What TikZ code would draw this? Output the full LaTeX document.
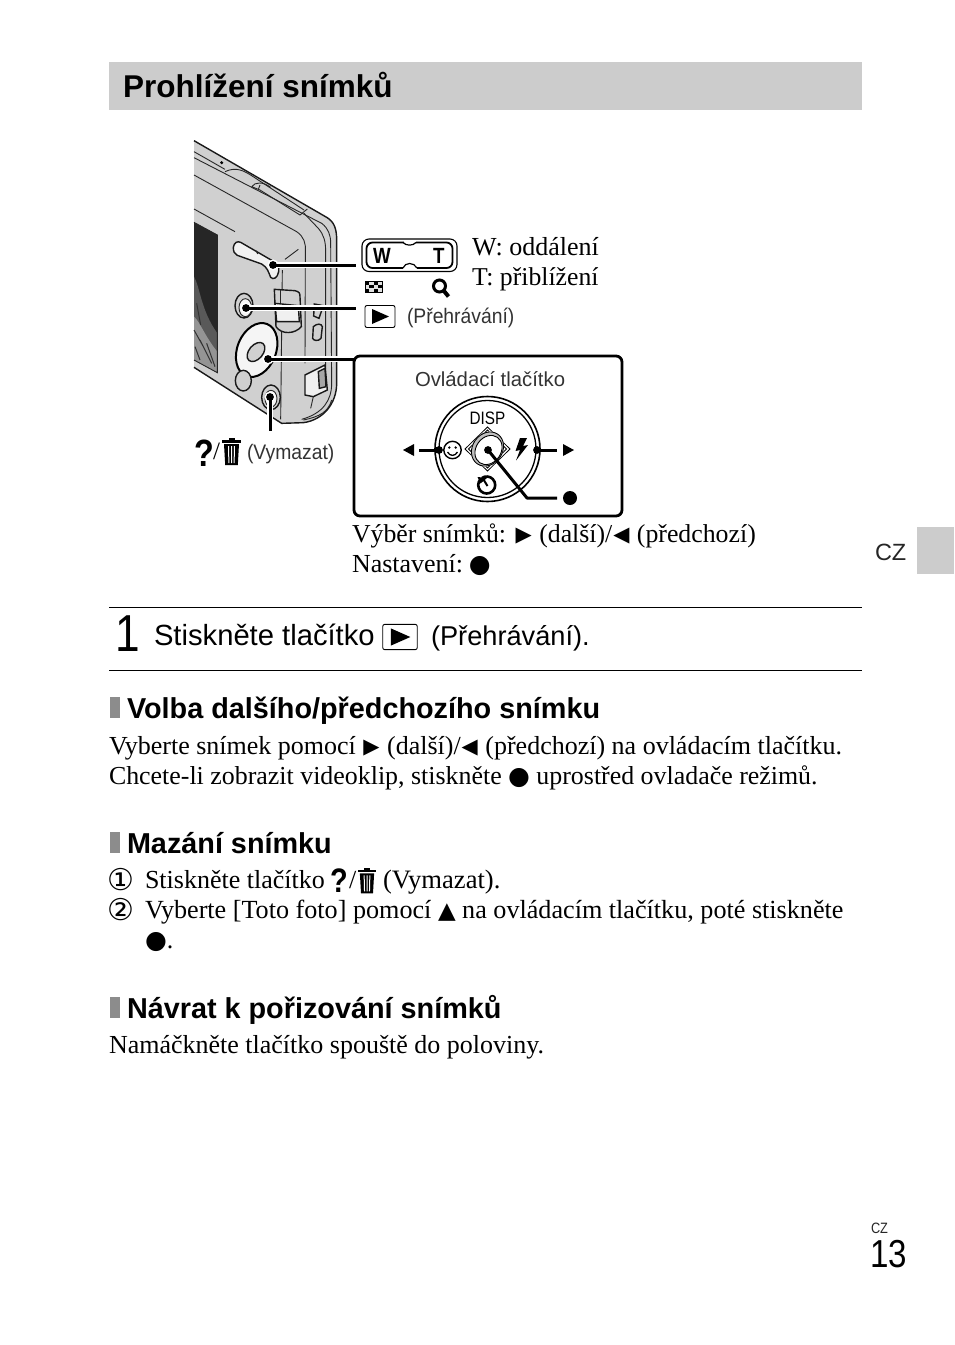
\documentclass[tikz,border=0pt]{standalone}
\usepackage{fontspec}
\setmainfont{Liberation Serif}
\setsansfont{Liberation Sans}
\newfontfamily\symf{DejaVu Sans}
\newfontfamily\capf[FakeStretch=0.92]{Liberation Sans}
\newfontfamily\narf[FakeStretch=0.85]{Liberation Sans}
\newcommand{\fs}[1]{\fontsize{#1}{#1}\selectfont}
\newcommand{\rtri}{\hspace{1pt}{\symf\fontsize{21}{21}\selectfont\raisebox{0.6pt}{▶}}\hspace{1pt}}
\newcommand{\ltri}{\hspace{1pt}{\symf\fontsize{21}{21}\selectfont\raisebox{0.6pt}{◀}}\hspace{1pt}}
\newcommand{\utri}{{\symf\fontsize{23}{23}\selectfont▲}}
\newcommand{\bdot}{{\symf\fontsize{25}{25}\selectfont\raisebox{-0.5pt}{●}}}
\definecolor{camgray}{HTML}{D0D0D0}
\tikzset{
  lab/.style={anchor=base west,inner sep=0pt,outer sep=0pt},
  body/.style={lab,font=\rmfamily\fs{26}},
  hd/.style={lab,font=\sffamily\bfseries\fs{28.8}},
  caplab/.style={lab,font=\capf\fs{21},text=black!80},
  leader/.style={line width=3pt,line cap=butt},
  halo/.style={line width=6.5pt,draw=white},
  cam/.style={line width=0.9pt,draw=black!85},
  camk/.style={line width=1.4pt,draw=black!90},
  bluedot/.pic={\fill (0,0) circle (3.9);},
  halodot/.pic={\fill[white] (0,0) circle (5.6);},
  trashpic/.pic={
    \fill (-9.5,-12) rectangle (9.5,-9.5);
    \fill (-3,-14) rectangle (3,-12);
    \fill (-7.5,-8) -- (7.5,-8) -- (6.3,13) -- (-6.3,13) -- cycle;
    \draw[white,line width=1pt] (-3,-6) -- (-2.6,11) (0,-6)--(0,11) (3,-6)--(2.6,11);
  },
  playbox/.pic={
    \draw[line width=0.9pt,rounded corners=2pt] (-15,-11) rectangle (15,11);
    \fill (-8,-7.5) -- (9,0) -- (-8,7.5) -- cycle;
  }
}
\begin{document}
\begin{tikzpicture}[x=1pt,y=-1pt]
\useasboundingbox (0,0) rectangle (954,1345);
\fill[white] (0,0) rectangle (954,1345);
% bands
\fill[black!20] (109,62) rectangle (862,110);
\fill[black!20] (917,527) rectangle (954,574);
\node[lab,font=\sffamily\bfseries\fs{31.5}] (title) at (123,97) {Prohlížení snímků};
\node[lab,font=\sffamily\fs{23.5},text=black!85] (cz) at (875,560) {CZ};
% camera
\begin{scope}[xshift=180pt,yshift=-130pt,x=0.33333pt,y=-0.33333pt]
  \fill[camgray] (42,32) -- (440,262) .. controls (462,275) and (470,295) .. (470,330) -- (470,760) .. controls (470,820) and (430,870) .. (370,878) -- (305,880) -- (42,712) -- cycle;
  \draw[camk] (42,32) -- (440,262) .. controls (462,275) and (470,295) .. (470,330) -- (470,760) .. controls (470,820) and (430,870) .. (370,878) -- (305,880) -- (42,712);
  % top strip and edges
  \draw[cam] (42,65) -- (135,118) (42,83) -- (425,280) .. controls (445,295) and (452,315) .. (452,340) -- (455,760) .. controls (455,810) and (430,850) .. (365,868);
  \draw[cam] (135,125) .. controls (170,108) and (195,125) .. (215,137) -- (372,240) (240,180) -- (360,255) -- (382,237);
  \draw[cam] (215,170) .. controls (225,155) and (250,155) .. (272,172) (215,170) -- (240,180) (240,165) -- (235,178);
  \draw[cam] (372,250) -- (415,295) .. controls (432,315) and (437,335) .. (437,365) -- (437,715);
  \draw[cam] (42,135) -- (350,305) .. controls (372,320) and (378,340) .. (376,365) -- (375,700);
  \draw[cam] (42,237) -- (165,305);
  \draw[cam] (307,420) -- (302,868);
  \draw[cam] (315,388) -- (355,358);
  \fill (125,98) circle (5);
  % screen
  \fill[black!85] (42,277) -- (112,315) -- (112,728) -- (42,690) -- cycle;
  \fill[black!65] (42,440) .. controls (60,470) and (62,540) .. (112,610) -- (112,728) -- (42,690) -- cycle;
  \fill[black!42] (42,560) .. controls (60,575) and (75,620) .. (112,665) -- (112,728) -- (42,690) -- cycle;
  \draw[black!80,line width=1pt] (50,520) -- (62,585) (42,600) -- (70,650) (60,630) -- (95,700) (80,640) -- (105,710) (45,650) -- (60,690);
  \draw[cam] (42,277) -- (112,315) -- (112,728) -- (42,690);
  % lever
  \draw[camk,fill=black!5] (160,352) .. controls (162,338) and (172,332) .. (182,337) -- (270,388) .. controls (290,398) and (300,408) .. (296,425) .. controls (292,445) and (280,450) .. (272,442) .. controls (265,425) and (262,412) .. (245,402) -- (172,376) .. controls (163,372) and (160,365) .. (160,352) -- cycle;
  \draw[cam] (228,362) -- (233,372);
  % zoom slider
  \draw[camk,fill=camgray] (283,478) -- (345,482) .. controls (358,485) and (360,490) .. (360,500) -- (364,590) .. controls (345,612) and (305,615) .. (288,590) -- cycle;
  \draw[camk,fill=black!6] (285,520) -- (355,527) -- (358,575) -- (290,575) -- cycle;
  \draw[cam] (300,480) -- (300,520);
  \draw[camk] (403,522) -- (430,527) -- (417,565) -- (401,558) -- cycle (400,590) .. controls (410,580) and (425,580) .. (427,590) -- (423,625) .. controls (415,635) and (400,632) .. (398,625) -- cycle;
  % buttons
  \draw[camk,fill=camgray] (192,527) ellipse (27 and 37);
  \draw[cam,fill=black!4] (196,533) ellipse (19 and 27);
  \draw[line width=2pt,fill=black!4,rotate around={-22:(230,660)}] (230,660) ellipse (58 and 84);
  \draw[camk,fill=camgray,rotate around={-40:(228,666)}] (228,666) ellipse (21 and 33);
  \draw[camk,fill=camgray] (190,752) ellipse (24 and 31);
  \draw[camk,fill=camgray] (273,802) ellipse (28 and 37);
  \draw[cam,fill=black!4] (273,806) ellipse (18 and 25);
  % port
  \draw[camk,fill=black!6] (375,735) -- (435,705) -- (442,780) -- (400,800) -- (375,795) -- cycle;
  \draw[camk,fill=black!35] (415,725) -- (435,715) -- (438,770) -- (418,775) -- cycle;
  \draw[cam] (400,800) -- (392,835) (370,870) .. controls (420,860) and (445,845) .. (455,810);
\end{scope}
% leaders
\coordinate (lvA) at (273,265); \coordinate (lvB) at (356,265);
\coordinate (plA) at (246,308); \coordinate (plB) at (356,308);
\coordinate (whA) at (268,359); \coordinate (whB) at (356,359);
\coordinate (dlA) at (270,397); \coordinate (dlB) at (270,431);
\draw[halo] (lvA) -- (lvB); \draw[halo] (plA) -- (plB); \draw[halo] (whA) -- (whB); \draw[halo] (dlA) -- (dlB);
\pic at (lvA) {halodot}; \pic at (plA) {halodot}; \pic at (whA) {halodot}; \pic at (dlA) {halodot};
\draw[leader] (lvA) -- (lvB); \draw[leader] (plA) -- (plB); \draw[leader] (whA) -- (whB); \draw[leader] (dlA) -- (dlB);
\pic at (lvA) {bluedot}; \pic at (plA) {bluedot}; \pic at (whA) {bluedot}; \pic at (dlA) {bluedot};
% zoom lever icon
\draw[line width=1.1pt,rounded corners=7pt] (362,239) rectangle (457,271.5);
\draw[line width=1.8pt,rounded corners=6pt] (366.5,242.5) rectangle (452.5,268);
\fill[white] (404,241) rectangle (416,244);
\fill[white] (403,266.5) rectangle (417,269.5);
\draw[line width=1.2pt] (403,242.5) .. controls (406,246) and (413,246) .. (416,242.5) (403,268) .. controls (405,262) and (414,262) .. (417,268);
\node[lab,font=\narf\bfseries\fs{22}] (w) at (373,263.5) {W};
\node[lab,font=\narf\bfseries\fs{22}] (t) at (433,263.5) {T};
% checker
\foreach \a/\b in {365/281,373.5/281,369.2/284.7,377.7/284.7,365/288.4,373.5/288.4} \fill (\a,\b) rectangle ++(4.4,3.9);
\foreach \a/\b in {369.2/281,377.7/281,365/284.7,373.5/284.7,369.2/288.4,377.7/288.4} \fill[black!12] (\a,\b) rectangle ++(4.4,3.9);
\draw[line width=0.8pt] (365,281) rectangle (382,292.3);
% magnifier
\draw[line width=3pt] (439.5,286) circle (6);
\draw[line width=4pt] (444,291) -- (448.5,296.5);
% play
\pic at (380,316.5) {playbox};
\node[caplab] (cplay) at (407,323) {(Přehrávání)};
\node[body] (wlab) at (472,255) {W: oddálení};
\node[body,font=\rmfamily\fs{25.7}] (tlab) at (472,285) {T: přiblížení};
% panel
\draw[line width=2.8pt,rounded corners=6pt] (354,356) rectangle (622,516);
\node[lab,font=\sffamily\fs{20.3},text=black!80] (ovl) at (415,386) {Ovládací tlačítko};
% wheel
\draw[line width=1.6pt] (487.5,449) circle (52.5);
\draw[line width=1.3pt] (487.5,449) circle (48.5);
\node[anchor=center,inner sep=0pt,font=\narf\fs{18}] (disp) at (487.5,418) {DISP};
\draw[line width=0.8pt] (487.5,427) -- (510,449) -- (487.5,471) -- (465,449) -- cycle;
\draw[line width=0.8pt] (487.5,430) -- (506.5,449) -- (487.5,468) -- (468.5,449) -- cycle;
\fill[white,rotate around={-35:(487.5,449)}] (487.5,449) ellipse (15.5 and 18.5);
\fill[black!25,rotate around={-35:(487.5,449)}] (487.5,449) ellipse (15 and 18);
\draw[line width=0.9pt,rotate around={-35:(487.5,449)}] (487.5,449) ellipse (15 and 18);
\draw[line width=0.9pt,fill=white,rotate around={-35:(488.5,450)}] (488.5,450) ellipse (12.5 and 15.5);
% smiley
\draw[line width=1.4pt] (452.5,450) circle (8.7);
\fill (449.3,447.5) circle (1.3) (455.7,447.5) circle (1.3);
\draw[line width=1.3pt] (447.5,452) .. controls (450,456.5) and (455,456.5) .. (457.5,452);
% flash
\fill (520,438) -- (515.5,451) -- (520,450) -- (516,460.5) -- (528,445) -- (523,446) -- (527,438) -- cycle;
% timer
\draw[line width=2.6pt] (480.7,479) arc (225:-125:8.5);
\draw[line width=2pt] (487.5,486) -- (483.5,479.5);
\fill (477.5,477) -- (487,478) -- (480.5,483.5) -- cycle;
% wheel leaders
\coordinate (cDot) at (488,450); \coordinate (cBend) at (527,498); \coordinate (cEnd) at (557,498);
\coordinate (lDot) at (439,450); \coordinate (lEnd) at (419,450);
\coordinate (rDot) at (537,450); \coordinate (rEnd) at (557,450);
\draw[leader,line join=round] (cDot) -- (cBend) -- (cEnd);
\draw[leader] (lDot) -- (lEnd); \draw[leader] (rDot) -- (rEnd);
\pic at (cDot) {bluedot}; \pic at (lDot) {bluedot}; \pic at (rDot) {bluedot};
\fill (403,450) -- (414,444) -- (414,456) -- cycle;
\fill (574,450) -- (563,444) -- (563,456) -- cycle;
\fill (570,498) circle (7);
% delete label
\node[lab,font=\narf\bfseries\fs{38}] (qa) at (194,466) {?};
\node[lab,font=\rmfamily\fs{25}] (sl) at (213,459) {/};
\pic at (231.5,452) {trashpic};
\node[caplab] (vym) at (247,459) {(Vymazat)};
% caption under panel
\node[body,font=\rmfamily\fs{25.8}] (sel) at (352,542) {Výběr snímků: \rtri{} (další)/\ltri{} (předchozí)};
\node[body] (set) at (352,572) {Nastavení:\hspace{-3pt} \bdot};
% step
\draw[line width=0.8pt] (109,607.5) -- (862,607.5);
\draw[line width=0.8pt] (109,670.5) -- (862,670.5);
\node[lab,font=\narf\fs{52}] (one) at (115,651) {1};
\node[lab,font=\sffamily\fs{29.2}] (st) at (154,645) {Stiskněte tlačítko};
\pic[scale=1.15] at (400,637) {playbox};
\node[lab,font=\sffamily\fs{27.2}] (st2) at (431,645) {(Přehrávání).};
% sections
\fill[black!45] (110,697) rectangle (120,718);
\node[hd] (h1) at (127,718) {Volba dalšího/předchozího snímku};
\node[body] (b1) at (109,754) {Vyberte snímek pomocí \rtri{} (další)/\ltri{} (předchozí) na ovládacím tlačítku.};
\node[body,font=\rmfamily\fs{25.9}] (b2) at (109,784) {Chcete-li zobrazit videoklip, stiskněte \bdot{} uprostřed ovladače režimů.};
\fill[black!45] (110,832) rectangle (120,853);
\node[hd] (h2) at (127,853) {Mazání snímku};
\node[lab,font=\symf\fs{30}] (n1) at (107,890) {①};
\node[body] (i1) at (145,888) {Stiskněte tlačítko};
\node[lab,font=\narf\bfseries\fs{34}] (qb) at (330,892) {?};
\node[body] (sl2) at (349,888) {/};
\pic[scale=0.95] at (367,881) {trashpic};
\node[body,font=\rmfamily\fs{26.6}] (i1b) at (383,888) {(Vymazat).};
\node[lab,font=\symf\fs{30}] (n2) at (107,920) {②};
\node[body,font=\rmfamily\fs{26.15}] (i2) at (145,918) {Vyberte [Toto foto] pomocí \utri{} na ovládacím tlačítku, poté stiskněte};
\node[body] (i3) at (145,948) {\bdot.};
\fill[black!45] (110,997) rectangle (120,1018);
\node[hd] (h3) at (127,1018) {Návrat k pořizování snímků};
\node[body] (b3) at (109,1053) {Namáčkněte tlačítko spouště do poloviny.};
\node[lab,font=\narf\fs{15},text=black!85] (czb) at (871,1233) {CZ};
\node[lab,font=\narf\fs{39}] (pg) at (870,1267) {13};
\end{tikzpicture}
\end{document}
